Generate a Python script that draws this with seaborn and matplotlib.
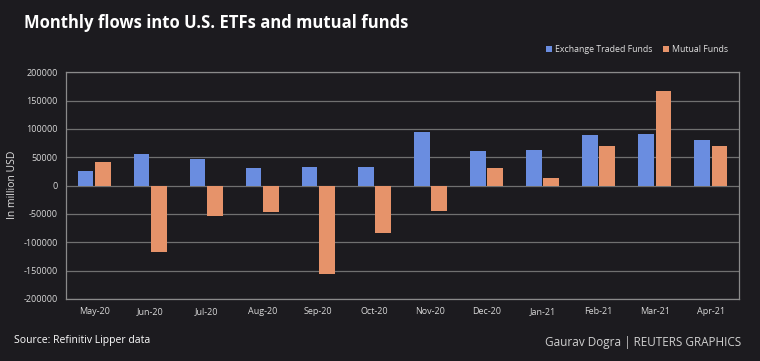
import matplotlib
matplotlib.use("Agg")
import matplotlib.pyplot as plt
import seaborn as sns
import pandas as pd
from matplotlib.patches import Patch

months = ["May-20", "Jun-20", "Jul-20", "Aug-20", "Sep-20", "Oct-20",
          "Nov-20", "Dec-20", "Jan-21", "Feb-21", "Mar-21", "Apr-21"]
etf = [25000, 56500, 47000, 30500, 33000, 32000, 94500, 60500, 63500, 89500, 91000, 80000]
mutual = [41000, -117000, -53000, -46000, -156500, -84000, -44500, 30500, 12500, 70000, 167500, 69000]
series_names = ["Exchange Traded Funds", "Mutual Funds"]
yticks = [-200000, -150000, -100000, -50000, 0, 50000, 100000, 150000, 200000]

df = pd.DataFrame({
    "month": months * 2,
    "value": etf + mutual,
    "series": [series_names[0]] * len(months) + [series_names[1]] * len(months),
})

BG = "#1c1b1f"
BLUE = "#6a8de0"
ORANGE = "#e6936a"
sns.set_theme(style="dark")
plt.rcParams["font.family"] = ["Open Sans", "DejaVu Sans"]

fig = plt.figure(figsize=(7.6, 3.61), dpi=100, facecolor=BG)
ax = fig.add_axes([0.087, 0.172, 0.885, 0.628])
ax.set_facecolor(BG)

sns.barplot(data=df, x="month", y="value", hue="series", order=months,
            hue_order=series_names, palette=[BLUE, ORANGE],
            width=0.62, gap=0.1, ax=ax, legend=False, saturation=1,
            linewidth=0, edgecolor="none")

ax.set_ylim(-200000, 200000)
ax.set_yticks(yticks)
ax.set_yticklabels([str(v) for v in yticks])
ax.yaxis.grid(True, color="#707070", linewidth=0.9)
ax.xaxis.grid(False)
ax.set_axisbelow(True)
ax.set_xlim(-0.5, len(months) - 0.5)
for s in ax.spines.values():
    s.set_visible(True)
    s.set_color("#8a8a8a")
    s.set_linewidth(0.9)
ax.tick_params(axis="both", colors="#d8d8d8", labelsize=6.5, length=0, pad=6)
for lab in ax.get_xticklabels() + ax.get_yticklabels():
    lab.set_color("#d8d8d8")
ax.set_xlabel("")
ax.set_ylabel("")
fig.text(0.016, 0.487, "In million USD", color="#e0e0e0", fontsize=7.5,
         rotation=90, va="center", ha="center")

fig.text(0.031, 0.935, "Monthly flows into U.S. ETFs and mutual funds",
         color="white", fontsize=12, fontweight="bold", va="center")

handles = [Patch(facecolor=BLUE, edgecolor="none"),
           Patch(facecolor=ORANGE, edgecolor="none")]
fig.legend(handles, series_names, loc="center right",
           bbox_to_anchor=(0.968, 0.862), ncol=2, frameon=False,
           fontsize=6.3, handlelength=0.7, handleheight=0.7,
           handletextpad=0.3, columnspacing=1.2, labelcolor="#e0e0e0")

fig.text(0.018, 0.058, "Source: Refinitiv Lipper data", color="white",
         fontsize=7.5, va="center")
fig.text(0.975, 0.05, "Gaurav Dogra | REUTERS GRAPHICS", color="#d0d0d0",
         fontsize=8.5, va="center", ha="right")

fig.savefig("out.png", dpi=100, facecolor=BG)
